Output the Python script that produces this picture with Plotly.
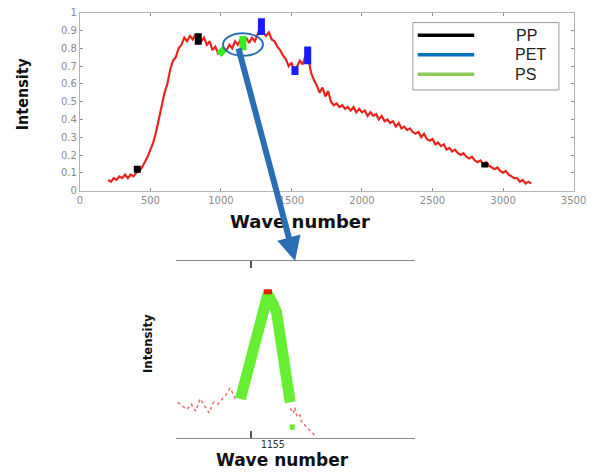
import plotly.graph_objects as go

# ---------------- data: main spectrum ----------------
wave = list(range(200, 3201, 20))
intensity = [
    0.06, 0.05, 0.07, 0.06, 0.08, 0.07, 0.09, 0.07, 0.09, 0.08,   # 200-380
    0.10, 0.11, 0.13, 0.16, 0.19, 0.23, 0.27, 0.33, 0.40, 0.47,   # 400-580
    0.55, 0.60, 0.68, 0.73, 0.75, 0.80, 0.82, 0.86, 0.84, 0.87,   # 600-780
    0.85, 0.88, 0.85, 0.84, 0.86, 0.82, 0.84, 0.79, 0.81, 0.77,   # 800-980
    0.78, 0.80, 0.79, 0.82, 0.80, 0.84, 0.82, 0.85, 0.83, 0.86,   # 1000-1180
    0.83, 0.86, 0.84, 0.88, 0.92, 0.89, 0.87, 0.89, 0.85, 0.84,   # 1200-1380
    0.81, 0.79, 0.76, 0.74, 0.70, 0.72, 0.67, 0.70, 0.73, 0.71,   # 1400-1580
    0.76, 0.74, 0.66, 0.62, 0.59, 0.55, 0.58, 0.53, 0.56, 0.50,   # 1600-1780
    0.48, 0.49, 0.47, 0.48, 0.46, 0.47, 0.45, 0.47, 0.44, 0.46,   # 1800-1980
    0.44, 0.45, 0.42, 0.44, 0.42, 0.43, 0.40, 0.42, 0.39, 0.40,   # 2000-2180
    0.38, 0.39, 0.36, 0.38, 0.35, 0.36, 0.34, 0.35, 0.33, 0.32,   # 2200-2380
    0.33, 0.30, 0.32, 0.29, 0.28, 0.29, 0.26, 0.27, 0.25, 0.26,   # 2400-2580
    0.23, 0.24, 0.22, 0.23, 0.21, 0.20, 0.21, 0.19, 0.18, 0.19,   # 2600-2780
    0.17, 0.16, 0.17, 0.15, 0.16, 0.14, 0.13, 0.12, 0.13, 0.11,   # 2800-2980
    0.10, 0.11, 0.09, 0.08, 0.07, 0.07, 0.05, 0.06, 0.04, 0.05,   # 3000-3180
    0.04,                                                          # 3200
]

# identified peaks (segments: x start, x end, y start, y end)
pp_x0 = [407, 839, 2871]
pp_x1 = [407, 839, 2871]
pp_y0 = [0.10, 0.82, 0.13]
pp_y1 = [0.14, 0.885, 0.16]

pet_x0 = [1287, 1525, 1615]
pet_x1 = [1287, 1525, 1615]
pet_y0 = [0.875, 0.65, 0.71]
pet_y1 = [0.97, 0.70, 0.81]

ps_x0 = [985, 1156]
ps_x1 = [1030, 1156]
ps_y0 = [0.765, 0.79]
ps_y1 = [0.80, 0.87]

legend_names = ["PP", "PET", "PS"]

# ---------------- data: zoomed inset ----------------
inset_left_x = [1130.5, 1132.0, 1133.5, 1135.0, 1136.5, 1138.0, 1139.5, 1141.0,
                1142.5, 1144.0, 1145.5, 1147.0, 1148.0, 1149.0, 1150.0]
inset_left_y = [0.20, 0.18, 0.16, 0.19, 0.15, 0.22, 0.18, 0.14,
                0.20, 0.19, 0.22, 0.25, 0.28, 0.25, 0.21]
inset_ps_x = [1151.5, 1153.5, 1155.5, 1157.4, 1159.1, 1160.7,
              1162.3, 1163.6, 1164.6, 1165.9, 1167.2, 1168.2]
inset_ps_y = [0.22, 0.36, 0.50, 0.64, 0.75, 0.81,
              0.76, 0.71, 0.60, 0.41, 0.27, 0.20]
inset_peak_x = [1159.3, 1162.1]
inset_peak_y = [0.826, 0.826]
inset_dot_x = [1168.9, 1168.9]
inset_dot_y = [0.045, 0.075]
inset_right_x = [1168.2, 1169.2, 1169.8, 1170.5, 1171.5, 1172.1, 1173.1, 1174.1, 1175.4, 1176.7]
inset_right_y = [0.166, 0.138, 0.171, 0.116, 0.127, 0.083, 0.072, 0.050, 0.033, 0.006]
inset_tick = [1155]

W, H = 606, 472
def px(x):
    return x / W
def py(y):
    return 1 - y / H

def segs(x0, x1, y0, y1):
    xs, ys = [], []
    for a, b, c, d in zip(x0, x1, y0, y1):
        xs += [a, b, None]
        ys += [c, d, None]
    return xs, ys

fig = go.Figure()

fig.add_trace(go.Scatter(x=wave, y=intensity, mode="lines",
                         line=dict(color="#e8261f", width=2.2),
                         xaxis="x", yaxis="y", showlegend=False))

for (x0, x1, y0, y1), col in [((pp_x0, pp_x1, pp_y0, pp_y1), "#000000"),
                              ((pet_x0, pet_x1, pet_y0, pet_y1), "#1a1aff"),
                              ((ps_x0, ps_x1, ps_y0, ps_y1), "#33ee22")]:
    xs, ys = segs(x0, x1, y0, y1)
    fig.add_trace(go.Scatter(x=xs, y=ys, mode="lines", line=dict(color=col, width=7),
                             xaxis="x", yaxis="y", showlegend=False))

# inset traces
fig.add_trace(go.Scatter(x=inset_left_x, y=inset_left_y, mode="lines",
                         line=dict(color="#f06b6b", width=1.5, dash="dot"),
                         xaxis="x2", yaxis="y2", showlegend=False))
fig.add_trace(go.Scatter(x=inset_right_x, y=inset_right_y, mode="lines",
                         line=dict(color="#f06b6b", width=1.5, dash="dot"),
                         xaxis="x2", yaxis="y2", showlegend=False))
fig.add_trace(go.Scatter(x=inset_ps_x, y=inset_ps_y, mode="lines",
                         line=dict(color="#66ee33", width=11),
                         xaxis="x2", yaxis="y2", showlegend=False))
fig.add_trace(go.Scatter(x=inset_peak_x, y=inset_peak_y, mode="lines",
                         line=dict(color="#dd2200", width=5),
                         xaxis="x2", yaxis="y2", showlegend=False))
fig.add_trace(go.Scatter(x=inset_dot_x, y=inset_dot_y, mode="lines",
                         line=dict(color="#66ee33", width=5),
                         xaxis="x2", yaxis="y2", showlegend=False))

tickfont = dict(family="DejaVu Sans", size=10, color="#8c8c8c")

fig.update_layout(
    width=W, height=H,
    margin=dict(l=0, r=0, t=0, b=0),
    paper_bgcolor="white", plot_bgcolor="white",
    showlegend=False,
    xaxis=dict(domain=[px(79), px(586)], range=[0, 3500], anchor="y",
               tickvals=[0, 500, 1000, 1500, 2000, 2500, 3000, 3500],
               showline=True, mirror="ticks", linecolor="#b5b5b5", linewidth=1,
               ticks="inside", ticklen=3, tickcolor="#909090",
               showgrid=False, zeroline=False, tickfont=tickfont),
    yaxis=dict(domain=[py(190), py(8)], range=[0, 1], anchor="x",
               tickvals=[0, 0.1, 0.2, 0.3, 0.4, 0.5, 0.6, 0.7, 0.8, 0.9, 1],
               ticktext=["0", "0.1", "0.2", "0.3", "0.4", "0.5", "0.6", "0.7", "0.8", "0.9", "1"],
               showline=True, mirror="ticks", linecolor="#b5b5b5", linewidth=1,
               ticks="inside", ticklen=3, tickcolor="#909090",
               showgrid=False, zeroline=False, tickfont=tickfont),
    xaxis2=dict(domain=[px(178), px(423)], range=[1130, 1210], anchor="y2",
                tickvals=inset_tick, ticktext=["1155"],
                showline=True, mirror="ticks", linecolor="#8a8a8a", linewidth=1.2,
                ticks="inside", ticklen=7, tickcolor="#555555", tickwidth=1.5,
                ticklabelshift=22, ticklabelstandoff=-3,
                showgrid=False, zeroline=False,
                tickfont=dict(family="DejaVu Sans Mono", size=10, color="#333333")),
    yaxis2=dict(domain=[py(443), py(262)], range=[0, 1], anchor="x2",
                visible=False),
)

title_font = dict(family="DejaVu Sans", size=18, color="#111111")
ylab_font = dict(family="DejaVu Sans Condensed, Liberation Sans Narrow, Liberation Sans", size=16, color="#111111")

annotations = [
    dict(text="<b>Wave number</b>", x=px(305), y=py(222), xref="paper", yref="paper",
         showarrow=False, font=title_font, xanchor="center", yanchor="middle"),
    dict(text="<b>Intensity</b>", x=px(20), y=py(91), xref="paper", yref="paper",
         showarrow=False, font=ylab_font, textangle=-90, xanchor="center", yanchor="middle"),
    dict(text="<b>Wave number</b>", x=px(287), y=py(466), xref="paper", yref="paper",
         showarrow=False, font=dict(family="DejaVu Sans", size=17, color="#111111"),
         xanchor="center", yanchor="middle", borderpad=0),
    dict(text="<b>Intensity</b>", x=px(149), y=py(347), xref="paper", yref="paper",
         showarrow=False, font=dict(family="DejaVu Sans Condensed, Liberation Sans Narrow, Liberation Sans", size=13, color="#111111"),
         textangle=-90, xanchor="center", yanchor="middle"),
]

legend_colors = ["#000000", "#0072BD", "#8DCB5B"]
legend_rows = [31, 51, 71]
legend_text_x = [538, 542, 537]
shapes = [
    dict(type="rect", xref="paper", yref="paper", x0=px(421), x1=px(571), y0=py(87), y1=py(18),
         line=dict(color="#9a9a9a", width=1), fillcolor="white", layer="above"),
    dict(type="circle", xref="paper", yref="paper", x0=px(226), x1=px(267), y0=py(52), y1=py(29),
         line=dict(color="#2a6fb5", width=2)),
]
for name, col, row, tx in zip(legend_names, legend_colors, legend_rows, legend_text_x):
    shapes.append(dict(type="line", xref="paper", yref="paper", x0=px(426), x1=px(484),
                       y0=py(row), y1=py(row), line=dict(color=col, width=3.5), layer="above"))
    annotations.append(dict(text=name, x=px(tx), y=py(row), xref="paper", yref="paper",
                            showarrow=False, xanchor="center", yanchor="middle",
                            font=dict(family="Liberation Sans", size=16, color="#222222")))

annotations.append(dict(text="", x=px(300), y=py(262), xref="paper", yref="paper",
                        showarrow=True, ax=-57, ay=-214, arrowcolor="#2a6fb5",
                        arrowwidth=6, arrowhead=2, arrowsize=0.8))

fig.update_layout(annotations=annotations, shapes=shapes)

fig.write_html("out.html")
